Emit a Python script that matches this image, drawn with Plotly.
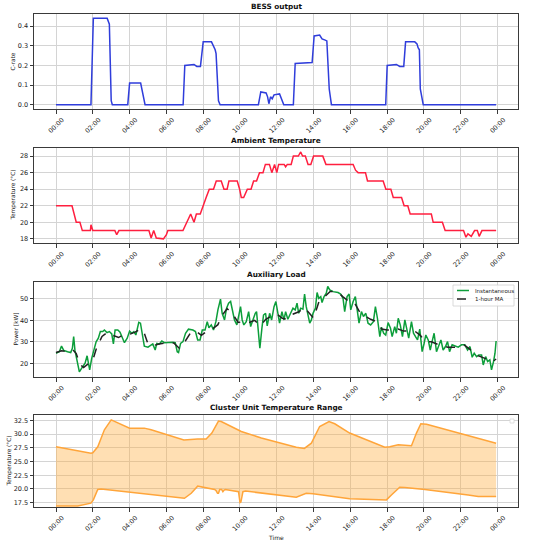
import plotly.graph_objects as go
from plotly.subplots import make_subplots

# ---------------- data (hours since midnight) ----------------
bess_t = [0, 1.9, 2.03, 2.78, 2.9, 3.0, 3.06, 3.9, 4.0, 4.6, 4.84, 6.91, 7.0, 7.5, 7.65, 7.85, 8.0, 8.45,
          8.65, 8.7, 8.83, 8.92, 11.0, 11.13, 11.42, 11.5, 11.57, 11.66, 11.75, 11.85, 12.15, 12.33, 12.38,
          12.9, 13.0, 13.92, 14.03, 14.33, 14.46, 14.6, 14.72, 14.85, 14.97, 17.92, 18.0, 18.5, 18.68, 18.9,
          19.0, 19.5, 19.62, 19.68, 19.75, 19.8, 19.96, 23.92]
bess_v = [0, 0, 0.44, 0.44, 0.41, 0.02, 0, 0, 0.11, 0.11, 0, 0, 0.20, 0.205, 0.195, 0.195, 0.32, 0.32,
          0.28, 0.26, 0.02, 0, 0, 0.065, 0.06, 0.04, 0.005, 0.04, 0.03, 0.05, 0.055, 0.01, 0,
          0, 0.21, 0.215, 0.35, 0.355, 0.335, 0.33, 0.325, 0.08, 0, 0, 0.20, 0.205, 0.195, 0.195,
          0.32, 0.32, 0.31, 0.29, 0.28, 0.08, 0, 0]

amb_t = [0, 0.87, 1.1, 1.3, 1.43, 1.87, 1.9, 2.0, 3.2, 3.3, 3.42, 5.05, 5.17, 5.31, 5.45, 5.84, 6.0, 6.08,
         6.9, 7.09, 7.32, 7.5, 7.63, 7.84, 7.98, 8.16, 8.33, 8.56, 8.71, 8.98, 9.13, 9.3, 9.4, 9.85, 9.98,
         10.07, 10.2, 10.4, 10.6, 10.74, 10.9, 11.06, 11.25, 11.38, 11.6, 11.73, 11.88, 12.0, 12.1, 12.4,
         12.48, 12.57, 12.78, 12.9, 13.17, 13.3, 13.4, 13.55, 13.7, 13.85, 14.0, 14.5, 14.67, 16.15, 16.28,
         16.42, 16.82, 16.93, 17.78, 17.93, 18.2, 18.33, 18.78, 18.92, 19.12, 19.25, 20.4, 20.5, 21.0,
         21.15, 22.15, 22.28, 22.39, 22.57, 22.75, 22.9, 23.0, 23.15, 23.92]
amb_v = [22, 22, 20, 20, 19, 19, 19.7, 19, 19, 18.5, 19, 19, 18.1, 19, 18.1, 18, 18.5, 19,
         19, 20, 21, 20, 21, 21, 22, 23, 24, 24, 25, 25, 24, 24, 25, 25, 24,
         23, 23, 24, 24, 25, 25, 26, 26, 27, 27, 26, 27, 26, 27, 27,
         26.7, 27, 27, 28, 28, 28.5, 28, 28, 27, 27, 28, 28, 27, 27, 26.3,
         26, 26, 25, 25, 24, 24, 23, 23, 22, 22, 21, 21, 20, 20,
         19, 19, 18.2, 18.6, 18.3, 19, 19, 18.3, 19, 19]

aux_t = [0, 0.18, 0.3, 0.42, 0.63, 0.8, 0.89, 0.96, 1.03, 1.18, 1.27, 1.45, 1.58, 1.69, 1.78, 1.83, 1.94,
         2.05, 2.18, 2.3, 2.41, 2.54, 2.63, 2.77, 2.9, 3.03, 3.12, 3.21, 3.36, 3.48, 3.57, 3.72, 3.87, 4.0,
         4.12, 4.23, 4.34, 4.41, 4.5, 4.59, 4.7, 4.8, 5.0, 5.26, 5.39, 5.48, 5.62, 5.75, 5.89, 6.08, 6.35,
         6.48, 6.59, 6.66, 6.77, 6.9, 7.04, 7.2, 7.44, 7.58, 7.7, 7.83, 7.95, 8.1, 8.22, 8.31, 8.44, 8.56,
         8.69, 8.8, 8.94, 9.03, 9.16, 9.27, 9.38, 9.49, 9.58, 9.7, 9.83, 9.94, 10.03, 10.12, 10.21, 10.34,
         10.47, 10.58, 10.7, 10.83, 10.9, 10.99, 11.08, 11.19, 11.28, 11.39, 11.48, 11.61, 11.72, 11.85,
         11.95, 12.06, 12.15, 12.28, 12.39, 12.48, 12.6, 12.75, 12.88, 13.0, 13.1, 13.19, 13.3, 13.42,
         13.51, 13.6, 13.7, 13.79, 13.88, 13.97, 14.1, 14.19, 14.28, 14.39, 14.46, 14.57, 14.69, 14.77,
         14.88, 15.06, 15.33, 15.47, 15.6, 15.69, 15.82, 15.93, 16.02, 16.15, 16.27, 16.38, 16.47, 16.6,
         16.71, 16.84, 16.96, 17.1, 17.25, 17.36, 17.47, 17.6, 17.69, 17.81, 17.92, 18.05, 18.18, 18.27,
         18.41, 18.5, 18.6, 18.71, 18.83, 18.96, 19.07, 19.17, 19.32, 19.43, 19.54, 19.65, 19.77, 19.9,
         20.0, 20.1, 20.23, 20.34, 20.44, 20.55, 20.68, 20.81, 20.92, 21.04, 21.17, 21.28, 21.39, 21.53,
         21.68, 21.86, 22.04, 22.22, 22.37, 22.5, 22.62, 22.73, 22.86, 22.98, 23.13, 23.22, 23.35, 23.46,
         23.58, 23.67, 23.78, 23.86, 23.92]
aux_v = [24.7, 25.4, 28, 26, 25.4, 25, 27, 32.4, 26, 20, 16, 18.4, 20, 23.5, 20, 16.9, 22.3,
         25.4, 30, 31.7, 34.8, 34.8, 35.5, 34.3, 34.8, 33.7, 29, 35.5, 35.5, 34.5, 32.8, 29.6, 31.7, 35,
         34, 34.8, 33.2, 35.5, 39.1, 38.7, 32.4, 28, 27.5, 29, 26.2, 29.3, 29, 30.4, 29.6, 29.8, 29.8,
         29.6, 25.4, 25, 29.3, 30.1, 34, 35.9, 35.5, 34.8, 30.9, 30.9, 35.5, 35.5, 39.4, 36.6, 37.9, 35.5,
         39.4, 44.9, 49.9, 43.3, 40.2, 45.7, 48, 48.8, 44.9, 40.2, 37.9, 43.3, 46.4, 40.2, 37.9, 39.4,
         44.1, 37.1, 40.2, 43.3, 44.1, 35.5, 27, 36.3, 42.5, 43.3, 37.4, 43.3, 40.2, 46.4,
         48.8, 43.3, 38.7, 44.1, 40.2, 44.1, 40.5, 43.3, 45.7, 44.9, 48, 43.3, 45.7, 45.2,
         52.3, 46.4, 41.8, 38.7, 40.2, 43.3, 45.7, 53, 50.3, 51.1, 48.3, 51.1, 52.7, 55.8,
         54.2, 53.4, 53, 52.3, 50.3, 44.1, 51.1, 52.3, 44.9, 48.8, 51.1, 43.3, 38.7, 44.1,
         41.8, 43.3, 38.7, 37.9, 39.4, 46.4, 41, 32.4, 36.8, 34, 33.2, 39, 36.3, 32.4,
         37.1, 34, 41, 37.9, 32.4, 40.2, 34.8, 31.7, 39.4, 34, 32.4, 30.9, 35.9, 25.4,
         29, 33.2, 30.9, 26.2, 30.1, 34, 25.4, 28.6, 30.9, 26.2, 27.8, 30.1, 25.4, 28.6,
         28.1, 27.5, 28.6, 28.6, 26.2, 27.8, 22.8, 24.7, 23.1, 23.9, 23.9, 19.2, 23.1, 20.8,
         21.6, 16.9, 20.8, 24.7, 30.4]

ma_t = [0, 0.3, 0.6, 0.9, 1.1, 1.3, 1.5, 1.8, 2.0, 2.2, 2.5, 2.8, 3.1, 3.4, 3.7, 4.0, 4.3, 4.6, 4.8,
        5.0, 5.3, 5.6, 6.0, 6.4, 6.7, 7.0, 7.3, 7.6, 7.9, 8.2, 8.5, 8.8, 9.0, 9.3, 9.6, 9.9, 10.2, 10.5,
        10.8, 11.1, 11.4, 11.7, 12.0, 12.3, 12.6, 12.9, 13.2, 13.5, 13.8, 14.0, 14.3, 14.6, 14.9, 15.3,
        15.6, 15.9, 16.2, 16.5, 16.8, 17.1, 17.4, 17.7, 18.0, 18.3, 18.6, 18.9, 19.2, 19.5, 19.8, 20.1,
        20.4, 20.7, 21.0, 21.3, 21.6, 21.9, 22.2, 22.5, 22.8, 23.1, 23.4, 23.7, 23.92]
ma_v = [25, 25.8, 25.5, 26.5, 24.5, 19.5, 18, 20, 21.5, 27, 32.5, 34.5, 33, 32, 33.5, 33.5, 34.5, 36, 34,
        29, 28.3, 29, 29.5, 29.5, 27, 30, 34, 35, 33, 35, 36, 38, 42, 45.5, 43, 39, 39.5, 39,
        40, 37.5, 40.5, 42, 43, 41, 40.5, 43, 44, 46, 43, 41, 49, 51, 53.5, 53.3,
        51, 49, 48.5, 44, 42, 40.5, 39.5, 36, 35.5, 35.5, 36, 35, 35, 35, 33, 30,
        30, 29, 28, 27.5, 27.5, 27.5, 28.5, 26.5, 24, 23, 22, 20.5, 22]

cu_hi_t = [0, 1.9, 2.0, 2.27, 2.63, 3.0, 4.0, 4.8, 5.17, 6.95, 7.7, 8.16, 8.47, 8.83, 8.98, 10.07, 11.16,
           13.06, 13.5, 13.88, 14.33, 14.84, 15.15, 15.96, 17.87, 18.14, 18.6, 19.32, 19.59, 19.83, 20.14,
           22.04, 23.92]
cu_hi_v = [27.7, 26.5, 26.6, 27.7, 30.8, 32.6, 31.1, 31.1, 30.8, 28.95, 29.1, 29.1, 30.2, 32.4, 32.3,
           30.5, 29.3, 27.6, 27.4, 28.35, 31.4, 32.3, 31.9, 30.2, 27.6, 27.7, 28.05, 27.9, 30.2, 31.9, 31.8,
           30.0, 28.35]
cu_lo_t = [0, 1.18, 1.9, 2.03, 2.27, 2.45, 6.98, 7.35, 7.7, 8.62, 8.7, 8.78, 8.83, 8.9, 9.0, 9.07, 9.14,
           9.2, 9.92, 10.0, 10.05, 10.16, 10.3, 13.06, 13.6, 13.97, 15.96, 17.96, 18.23, 18.68, 18.95, 20.05,
           22.4, 22.95, 23.92]
cu_lo_v = [16.9, 16.9, 17.4, 18.0, 19.9, 20.0, 18.3, 19.2, 20.5, 19.9, 19.7, 19.2, 19.2, 19.9, 19.9, 19.5,
           19.8, 19.9, 19.5, 17.5, 17.6, 19.5, 19.6, 18.5, 19.2, 19.1, 18.2, 18.0, 18.9, 20.3, 20.25, 19.9,
           18.9, 18.6, 18.6]

tick_hours = [0, 2, 4, 6, 8, 10, 12, 14, 16, 18, 20, 22, 24]
tick_labels = ["00:00", "02:00", "04:00", "06:00", "08:00", "10:00", "12:00", "14:00", "16:00",
               "18:00", "20:00", "22:00", "00:00"]
titles = ["BESS output", "Ambient Temperature", "Auxiliary Load", "Cluster Unit Temperature Range"]
ylabels = ["C-rate", "Temperature (°C)", "Power [kW]", "Temperature (°C)"]
legend_names = ["Instantaneous", "1-hour MA"]

# ---------------- layout geometry (page pixels) ----------------
W, H = 550, 546
ML, MR, MT, MB = 34, 550 - 518, 14, 546 - 507
PW = W - ML - MR
PH = H - MT - MB


def px(xp):   # page x -> paper x
    return (xp - ML) / PW


def py(yp):   # page y -> paper y
    return (H - MB - yp) / PH


panels_px = [(14, 109), (148, 243), (282, 377), (415, 507)]
domains = [[py(b), py(t)] for t, b in panels_px]
ytitle_px = [13, 13, 15, 8.5]

fig = make_subplots(rows=4, cols=1)

FONT = "DejaVu Sans"
GREEN = "#0c9e3a"
fig.add_trace(go.Scatter(x=bess_t, y=bess_v, mode="lines", line=dict(color="#2f3ddb", width=1.5),
                         showlegend=False), row=1, col=1)
fig.add_trace(go.Scatter(x=amb_t, y=amb_v, mode="lines", line=dict(color="#ff1f3f", width=1.5),
                         showlegend=False), row=2, col=1)
fig.add_trace(go.Scatter(x=aux_t, y=aux_v, mode="lines", name=legend_names[0],
                         line=dict(color=GREEN, width=1.5), showlegend=False), row=3, col=1)
fig.add_trace(go.Scatter(x=ma_t, y=ma_v, mode="lines", name=legend_names[1],
                         line=dict(color="#222222", width=1.5, dash="dash"), showlegend=False), row=3, col=1)
fig.add_trace(go.Scatter(x=cu_lo_t, y=cu_lo_v, mode="lines", line=dict(color="#ffa53a", width=1.5),
                         showlegend=False), row=4, col=1)
fig.add_trace(go.Scatter(x=cu_hi_t, y=cu_hi_v, mode="lines", line=dict(color="#ffa53a", width=1.5),
                         fill="tonexty", fillcolor="rgba(255,176,64,0.40)", showlegend=False), row=4, col=1)

yranges = [[-0.022, 0.462], [17.5, 28.98], [13.6, 57.9], [16.7, 33.5]]
ytickvals = [[0, 0.1, 0.2, 0.3, 0.4], [18, 20, 22, 24, 26, 28], [20, 30, 40, 50],
             [17.5, 20, 22.5, 25, 27.5, 30, 32.5]]
yticktext = [["0.0", "0.1", "0.2", "0.3", "0.4"], ["18", "20", "22", "24", "26", "28"],
             ["20", "30", "40", "50"], ["17.5", "20.0", "22.5", "25.0", "27.5", "30.0", "32.5"]]

axcommon = dict(showline=True, mirror=True, linecolor="#3a3a3a", linewidth=1,
                showgrid=True, gridcolor="#d4d4d4", gridwidth=0.8, zeroline=False,
                ticks="outside", ticklen=3.5, tickcolor="#3a3a3a", tickwidth=0.8, automargin=False,
                tickfont=dict(family=FONT, size=6.5, color="#222"))

for i in range(4):
    r = i + 1
    fig.update_xaxes(range=[-1.196, 25.11], tickvals=tick_hours, ticktext=tick_labels, tickangle=-45,
                     ticklabelshift=6, domain=[0, 1], row=r, col=1, **axcommon)
    fig.update_yaxes(range=yranges[i], tickvals=ytickvals[i], ticktext=yticktext[i], domain=domains[i],
                     row=r, col=1, **axcommon)
    fig.add_annotation(text="<b>" + titles[i] + "</b>", xref="paper", yref="paper", x=0.5,
                       y=domains[i][1], yshift=1, xanchor="center", yanchor="bottom", showarrow=False,
                       font=dict(family=FONT, size=7.3, color="#111"))
    fig.add_annotation(text=ylabels[i], xref="paper", yref="paper", x=px(ytitle_px[i]),
                       y=(domains[i][0] + domains[i][1]) / 2, xanchor="center", yanchor="middle",
                       textangle=-90, showarrow=False, font=dict(family=FONT, size=5.8, color="#222"))

fig.add_annotation(text="Time", xref="paper", yref="paper", x=0.5, y=py(537),
                   xanchor="center", yanchor="middle", showarrow=False,
                   font=dict(family=FONT, size=6, color="#222"))

# legend for the auxiliary load panel (drawn compactly, matplotlib-style)
fig.add_shape(type="rect", xref="paper", yref="paper", x0=px(453), x1=px(514), y0=py(306), y1=py(285),
              line=dict(color="#d0d0d0", width=0.8), fillcolor="rgba(255,255,255,0.85)", layer="above")
leg_rows = [(290.5, GREEN, "solid"), (299, "#222222", "dash")]
for (yy, col, dsh), name in zip(leg_rows, legend_names):
    fig.add_shape(type="line", xref="paper", yref="paper", x0=px(457), x1=px(469), y0=py(yy), y1=py(yy),
                  line=dict(color=col, width=1.5, dash=dsh), layer="above")
    fig.add_annotation(text=name, xref="paper", yref="paper", x=px(472.5), y=py(yy), xanchor="left",
                       yanchor="middle", showarrow=False, font=dict(family=FONT, size=5.5, color="#222"))

# empty legend box on the last panel
fig.add_shape(type="rect", xref="paper", yref="paper", x0=px(510), x1=px(514), y0=py(423), y1=py(419),
              line=dict(color="#d8d8d8", width=0.8), fillcolor="white", layer="above")

fig.update_layout(
    width=W, height=H, margin=dict(l=ML, r=MR, t=MT, b=MB, autoexpand=False),
    plot_bgcolor="white", paper_bgcolor="white", showlegend=False,
    font=dict(family=FONT, size=6.5, color="#222"),
)

# place the figure flush with the window corner (no default page margin), no mode bar
fig.write_html("out.html", config={"displayModeBar": False},
               post_script="document.body.style.margin='0';")
